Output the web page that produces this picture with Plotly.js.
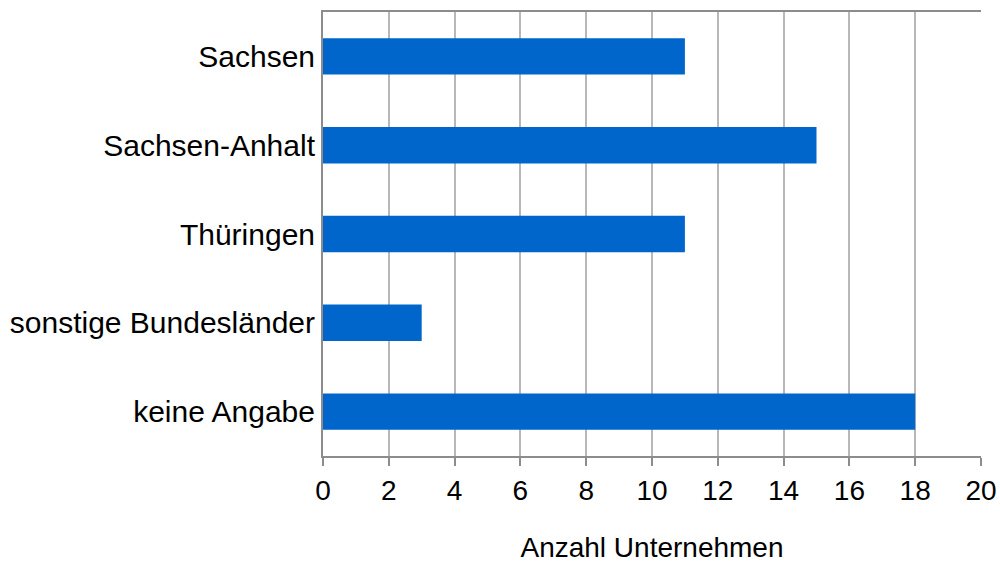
<!DOCTYPE html>
<html>
<head>
<meta charset="utf-8">
<script src="https://cdn.plot.ly/plotly-3.0.1.min.js"></script>
<style>html,body{margin:0;padding:0;background:#fff;}#chart{width:1000px;height:563px;}</style>
</head>
<body>
<div id="chart"></div>
<script>
const categories = ["Sachsen", "Sachsen-Anhalt", "Thüringen", "sonstige Bundesländer", "keine Angabe"];
const values = [11, 15, 11, 3, 18];
const xTickValues = [0, 2, 4, 6, 8, 10, 12, 14, 16, 18, 20];
const xTitle = "Anzahl Unternehmen";

const trace = {
  type: 'bar',
  orientation: 'h',
  x: values,
  y: categories,
  marker: {color: '#0066cc'},
  hoverinfo: 'x+y'
};

const layout = {
  width: 1000,
  height: 563,
  margin: {l: 323, r: 19, t: 12, b: 107},
  paper_bgcolor: '#ffffff',
  plot_bgcolor: '#ffffff',
  bargap: 0.59,
  showlegend: false,
  font: {family: 'Liberation Sans, Arial, sans-serif', size: 28, color: '#000'},
  xaxis: {
    range: [0, 20],
    tickvals: xTickValues,
    ticktext: xTickValues.map(String),
    showgrid: true,
    gridcolor: '#b8b8b8',
    gridwidth: 2,
    zeroline: false,
    showline: true,
    linecolor: '#8c8c8c',
    linewidth: 2,
    mirror: true,
    ticks: 'outside',
    ticklen: 8,
    tickwidth: 2,
    tickcolor: '#8c8c8c',
    tickfont: {size: 28},
    title: {text: xTitle, font: {size: 28}, standoff: 36}
  },
  yaxis: {
    type: 'category',
    autorange: 'reversed',
    showgrid: false,
    zeroline: false,
    showline: true,
    linecolor: '#8c8c8c',
    linewidth: 2,
    ticks: '',
    tickfont: {size: 30}
  }
};

Plotly.newPlot('chart', [trace], layout, {displayModeBar: false, staticPlot: true});
</script>
</body>
</html>
